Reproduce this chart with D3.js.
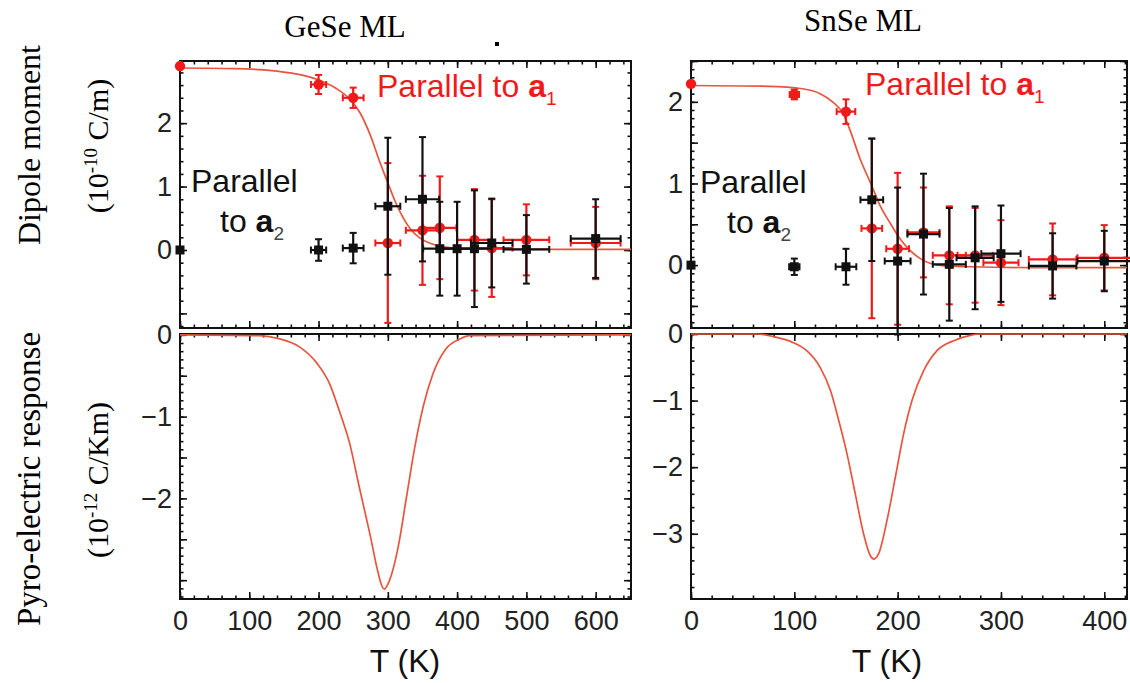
<!DOCTYPE html>
<html>
<head>
<meta charset="utf-8">
<script src="https://cdn.jsdelivr.net/npm/d3@7"></script>
<style>
  body { margin: 0; background: #fff; }
  svg { display: block; }
</style>
</head>
<body>
<svg id="fig" width="1130" height="683"></svg>
<script>
// ---------------- data ----------------
const panelTitles = ["GeSe ML", "SnSe ML"];

// GeSe monolayer: dipole moment (10^-10 C/m) vs temperature (K)
// component parallel to a1 (red)
const geseA1T    = [0, 200, 250, 300, 350, 375, 425, 450, 500, 600];
const geseA1P    = [2.90, 2.61, 2.40, 0.11, 0.31, 0.35, 0.16, 0.03, 0.16, 0.11];
const geseA1Perr = [0, 0.15, 0.16, 1.26, 0.86, 0.81, 0.80, 0.77, 0.56, 0.57];
const geseA1Terr = [0, 11, 15, 18, 24, 24, 25, 30, 33, 36];
// component parallel to a2 (black)
const geseA2T    = [0, 200, 250, 300, 350, 375, 400, 425, 450, 500, 600];
const geseA2P    = [0, 0, 0.03, 0.69, 0.80, 0.02, 0.02, 0.02, 0.11, 0.01, 0.18];
const geseA2Perr = [0, 0.17, 0.24, 1.08, 0.98, 0.74, 0.74, 0.92, 0.70, 0.54, 0.62];
const geseA2Terr = [0, 11, 15, 18, 24, 24, 25, 25, 30, 33, 36];
// fitted polarization curve
const geseFitT = [0, 80, 140, 175, 200, 225, 245, 260, 274, 288, 300, 310, 320, 332, 346, 360, 380, 420, 500, 651];
const geseFitP = [2.87, 2.86, 2.82, 2.76, 2.68, 2.55, 2.38, 2.16, 1.83, 1.40, 1.06, 0.78, 0.55, 0.34, 0.19, 0.11, 0.05, 0.02, 0.01, 0.01];
// pyroelectric response (10^-12 C/Km)
const gesePyroT = [0, 115, 144, 173, 197, 216, 230, 245, 259, 274, 286, 290.5, 295, 300, 305, 315, 327, 339, 351, 365, 384, 404, 418, 651];
const gesePyroR = [0, -0.01, -0.05, -0.15, -0.34, -0.60, -0.93, -1.33, -1.87, -2.43, -2.91, -3.05, -3.11, -3.05, -2.94, -2.59, -1.98, -1.37, -0.88, -0.48, -0.17, -0.05, -0.01, 0];

// SnSe monolayer
const snseA1T    = [0, 100, 150, 175, 200, 225, 250, 275, 300, 350, 400];
const snseA1P    = [2.22, 2.09, 1.88, 0.45, 0.20, 0.40, 0.12, 0.12, 0.03, 0.07, 0.09];
const snseA1Perr = [0, 0.06, 0.15, 1.10, 0.93, 0.55, 0.60, 0.58, 0.52, 0.44, 0.40];
const snseA1Terr = [0, 4.5, 9, 10, 11, 15.5, 16, 17, 17, 23, 26];
const snseA2T    = [0, 100, 150, 175, 200, 225, 250, 275, 300, 350, 400];
const snseA2P    = [0, -0.02, -0.02, 0.80, 0.05, 0.38, 0.01, 0.09, 0.14, -0.01, 0.05];
const snseA2Perr = [0, 0.10, 0.22, 0.75, 0.90, 0.74, 0.69, 0.63, 0.59, 0.40, 0.37];
const snseA2Terr = [0, 5, 10, 11, 12.5, 15.5, 16, 18, 19, 23, 26];
const snseFitT = [0, 75, 108, 125, 137, 147, 154, 164, 174, 183, 193, 203, 212, 222, 232, 245, 270, 330, 422];
const snseFitP = [2.20, 2.19, 2.16, 2.10, 2.00, 1.86, 1.65, 1.29, 1.00, 0.73, 0.51, 0.31, 0.18, 0.08, 0.02, -0.01, -0.02, -0.03, -0.03];
const snsePyroT = [0, 64, 80, 99, 112, 125, 135, 143, 151, 159, 167, 173.6, 177, 181.6, 189.7, 197.8, 205.8, 213.9, 225.2, 238.1, 254.2, 270.4, 280, 422];
const snsePyroR = [0, 0, -0.04, -0.13, -0.25, -0.50, -0.85, -1.30, -1.80, -2.40, -3.00, -3.33, -3.38, -3.30, -2.80, -2.15, -1.50, -1.00, -0.55, -0.25, -0.10, -0.02, 0, 0];

// tick labels
const geseTempTicks = [0, 100, 200, 300, 400, 500, 600];
const snseTempTicks = [0, 100, 200, 300, 400];
const geseDipoleTicks = [0, 1, 2];
const snseDipoleTicks = [0, 1, 2];
const gesePyroTicks = [-2, -1, 0];
const snsePyroTicks = [-3, -2, -1, 0];

// ---------------- layout ----------------
const RED = "#f01a1a", FIT = "#e8553f", INK = "#111";
const SANS = "'Liberation Sans', Arial, Helvetica, sans-serif";
const SERIF = "'Liberation Serif', 'Times New Roman', serif";
const svg = d3.select("#fig");
svg.append("rect").attr("width", 1130).attr("height", 683).attr("fill", "#fff");

const cols = [{ x0: 180, x1: 631 }, { x0: 691, x1: 1127 }];
const rows = [{ y0: 61, y1: 328 }, { y0: 334, y1: 599 }];

const xGe = d3.scaleLinear().domain([0, 651]).range([cols[0].x0, cols[0].x1]);
const xSn = d3.scaleLinear().domain([0, 422]).range([cols[1].x0, cols[1].x1]);
const yGeP = d3.scaleLinear().domain([-1.23, 2.98]).range([rows[0].y1, rows[0].y0]);
const ySnP = d3.scaleLinear().domain([-0.77, 2.50]).range([rows[0].y1, rows[0].y0]);
const yGeR = d3.scaleLinear().domain([-3.23, 0.01]).range([rows[1].y1, rows[1].y0]);
const ySnR = d3.scaleLinear().domain([-3.98, 0]).range([rows[1].y1, rows[1].y0]);

function steps(lo, hi, step) {
  const out = [];
  const n0 = Math.ceil(lo / step - 1e-9), n1 = Math.floor(hi / step + 1e-9);
  for (let i = n0; i <= n1; i++) out.push(+(i * step).toFixed(6));
  return out;
}

// frame with inward ticks on all four sides
function drawFrame(g, x, y, xMajor, xMinor, yMajor, yMinor, yLabels, xLabels) {
  const [xa, xb] = x.range(), [yb, ya] = y.range();
  const xd = x.domain(), yd = y.domain();
  const xMaj = steps(xd[0], xd[1], xMajor), xMin = steps(xd[0], xd[1], xMinor);
  const yMaj = steps(yd[0], yd[1], yMajor), yMin = steps(yd[0], yd[1], yMinor);

  const sides = [
    { axis: d3.axisBottom, scale: x, t: `translate(0,${yb})`, maj: xMaj, min: xMin },
    { axis: d3.axisTop, scale: x, t: `translate(0,${ya})`, maj: xMaj, min: xMin },
    { axis: d3.axisLeft, scale: y, t: `translate(${xa},0)`, maj: yMaj, min: yMin },
    { axis: d3.axisRight, scale: y, t: `translate(${xb},0)`, maj: yMaj, min: yMin }
  ];
  sides.forEach(s => {
    const gm = g.append("g").attr("transform", s.t)
      .call(s.axis(s.scale).tickValues(s.min).tickSize(-3.5).tickFormat(""));
    const gM = g.append("g").attr("transform", s.t)
      .call(s.axis(s.scale).tickValues(s.maj).tickSize(-7).tickFormat(""));
    [gm, gM].forEach(a => {
      a.select(".domain").remove();
      a.selectAll(".tick line").attr("stroke", INK).attr("stroke-width", 1.6);
    });
  });

  g.append("rect").attr("x", xa).attr("y", ya).attr("width", xb - xa).attr("height", yb - ya)
    .attr("fill", "none").attr("stroke", INK).attr("stroke-width", 2);

  const fmt = d3.format("d");
  const gl = g.append("g").attr("transform", `translate(${xa},0)`)
    .call(d3.axisLeft(y).tickValues(yLabels).tickSize(0).tickPadding(8).tickFormat(fmt));
  gl.select(".domain").remove();
  gl.selectAll("text").attr("font-family", SANS).attr("font-size", 27).attr("fill", "#222");

  if (xLabels) {
    const gx = g.append("g").attr("transform", `translate(0,${yb})`)
      .call(d3.axisBottom(x).tickValues(xLabels).tickSize(0).tickPadding(12).tickFormat(fmt));
    gx.select(".domain").remove();
    gx.selectAll("text").attr("font-family", SANS).attr("font-size", 27).attr("fill", "#222");
  }
}

function fitLine(g, x, y, ts, vs) {
  const pts = ts.map((t, i) => [t, vs[i]]);
  g.append("path").datum(pts)
    .attr("d", d3.line().x(d => x(d[0])).y(d => y(d[1])).curve(d3.curveMonotoneX))
    .attr("fill", "none").attr("stroke", FIT).attr("stroke-width", 1.7);
}

function errorPoints(g, x, y, ts, ps, perr, terr, color, shape) {
  const data = ts.map((t, i) => ({ t, p: ps[i], pe: perr[i], te: terr[i] }));
  const grp = g.append("g");
  const withErr = data.filter(d => d.pe > 0 || d.te > 0);
  // vertical bars
  grp.selectAll(null).data(withErr).join("line")
    .attr("x1", d => x(d.t)).attr("x2", d => x(d.t))
    .attr("y1", d => y(d.p - d.pe)).attr("y2", d => y(d.p + d.pe))
    .attr("stroke", color).attr("stroke-width", 2.2);
  // horizontal bars
  grp.selectAll(null).data(withErr).join("line")
    .attr("x1", d => x(d.t - d.te)).attr("x2", d => x(d.t + d.te))
    .attr("y1", d => y(d.p)).attr("y2", d => y(d.p))
    .attr("stroke", color).attr("stroke-width", 2.2);
  // caps
  const cap = 3.5;
  withErr.forEach(d => {
    [d.p - d.pe, d.p + d.pe].forEach(v => {
      grp.append("line").attr("x1", x(d.t) - cap).attr("x2", x(d.t) + cap)
        .attr("y1", y(v)).attr("y2", y(v)).attr("stroke", color).attr("stroke-width", 2);
    });
    [d.t - d.te, d.t + d.te].forEach(v => {
      grp.append("line").attr("x1", x(v)).attr("x2", x(v))
        .attr("y1", y(d.p) - cap).attr("y2", y(d.p) + cap).attr("stroke", color).attr("stroke-width", 2);
    });
  });
  if (shape === "circle") {
    grp.selectAll(null).data(data).join("circle")
      .attr("cx", d => x(d.t)).attr("cy", d => y(d.p)).attr("r", 5.2).attr("fill", color);
  } else {
    const s = 9;
    grp.selectAll(null).data(data).join("rect")
      .attr("x", d => x(d.t) - s / 2).attr("y", d => y(d.p) - s / 2)
      .attr("width", s).attr("height", s).attr("fill", color);
  }
}

function legendText(g, xPos, yPos, color, sub) {
  const t = g.append("text").attr("font-family", SANS).attr("font-size", 32).attr("fill", color)
    .attr("x", xPos).attr("y", yPos);
  t.append("tspan").text("Parallel to ");
  t.append("tspan").attr("font-weight", "bold").text("a");
  t.append("tspan").attr("font-size", 19).attr("dy", 8).text(sub);
}

function stackedLegend(g, xPos, yPos, x2, y2, color, sub) {
  g.append("text").attr("x", xPos).attr("y", yPos).attr("font-family", SANS)
    .attr("font-size", 32).attr("fill", color).text("Parallel");
  const t = g.append("text").attr("x", x2).attr("y", y2).attr("font-family", SANS)
    .attr("font-size", 32).attr("fill", color);
  t.append("tspan").text("to ");
  t.append("tspan").attr("font-weight", "bold").text("a");
  t.append("tspan").attr("font-size", 19).attr("dy", 8).attr("fill", "#444").text(sub);
}

// ---------------- GeSe ----------------
const gGeTop = svg.append("g");
drawFrame(gGeTop, xGe, yGeP, 100, 20, 1, 0.2, geseDipoleTicks, null);
fitLine(gGeTop, xGe, yGeP, geseFitT, geseFitP);
errorPoints(gGeTop, xGe, yGeP, geseA1T, geseA1P, geseA1Perr, geseA1Terr, RED, "circle");
errorPoints(gGeTop, xGe, yGeP, geseA2T, geseA2P, geseA2Perr, geseA2Terr, INK, "square");
legendText(gGeTop, 377, 97, RED, "1");
stackedLegend(gGeTop, 191, 192, 220, 232, INK, "2");

const gGeBot = svg.append("g");
drawFrame(gGeBot, xGe, yGeR, 100, 20, 0.5, 0.1, gesePyroTicks, geseTempTicks);
fitLine(gGeBot, xGe, yGeR, gesePyroT, gesePyroR);

// ---------------- SnSe ----------------
const gSnTop = svg.append("g");
drawFrame(gSnTop, xSn, ySnP, 100, 20, 0.5, 0.1, snseDipoleTicks, null);
fitLine(gSnTop, xSn, ySnP, snseFitT, snseFitP);
errorPoints(gSnTop, xSn, ySnP, snseA1T, snseA1P, snseA1Perr, snseA1Terr, RED, "circle");
errorPoints(gSnTop, xSn, ySnP, snseA2T, snseA2P, snseA2Perr, snseA2Terr, INK, "square");
legendText(gSnTop, 865, 95, RED, "1");
stackedLegend(gSnTop, 700, 193, 727, 233, INK, "2");

const gSnBot = svg.append("g");
drawFrame(gSnBot, xSn, ySnR, 100, 20, 1, 0.2, snsePyroTicks, snseTempTicks);
fitLine(gSnBot, xSn, ySnR, snsePyroT, snsePyroR);

// ---------------- titles and axis names ----------------
svg.append("text").attr("x", 345).attr("y", 37).attr("text-anchor", "middle")
  .attr("font-family", SERIF).attr("font-size", 31).attr("fill", "#000").text(panelTitles[0]);
svg.append("text").attr("x", 863).attr("y", 31).attr("text-anchor", "middle")
  .attr("font-family", SERIF).attr("font-size", 31).attr("fill", "#000").text(panelTitles[1]);
svg.append("rect").attr("x", 495).attr("y", 42).attr("width", 4).attr("height", 4).attr("fill", "#000");

[405, 887].forEach(cx => {
  svg.append("text").attr("x", cx).attr("y", 672).attr("text-anchor", "middle")
    .attr("font-family", SANS).attr("font-size", 32).attr("fill", "#111").text("T (K)");
});

function rotLabel(cx, cy, size, build) {
  const t = svg.append("text").attr("transform", `translate(${cx},${cy}) rotate(-90)`)
    .attr("text-anchor", "middle").attr("font-family", SERIF).attr("font-size", size).attr("fill", "#000");
  build(t);
}
rotLabel(40, 145, 32, t => t.text("Dipole moment"));
rotLabel(108, 146, 30, t => {
  t.append("tspan").text("(10");
  t.append("tspan").attr("font-size", 19).attr("dy", -11).text("-10");
  t.append("tspan").attr("dy", 11).text(" C/m)");
});
rotLabel(40, 479, 33, t => t.text("Pyro-electric response"));
rotLabel(108, 480, 30, t => {
  t.append("tspan").text("(10");
  t.append("tspan").attr("font-size", 19).attr("dy", -11).text("-12");
  t.append("tspan").attr("dy", 11).text(" C/Km)");
});
</script>
</body>
</html>
